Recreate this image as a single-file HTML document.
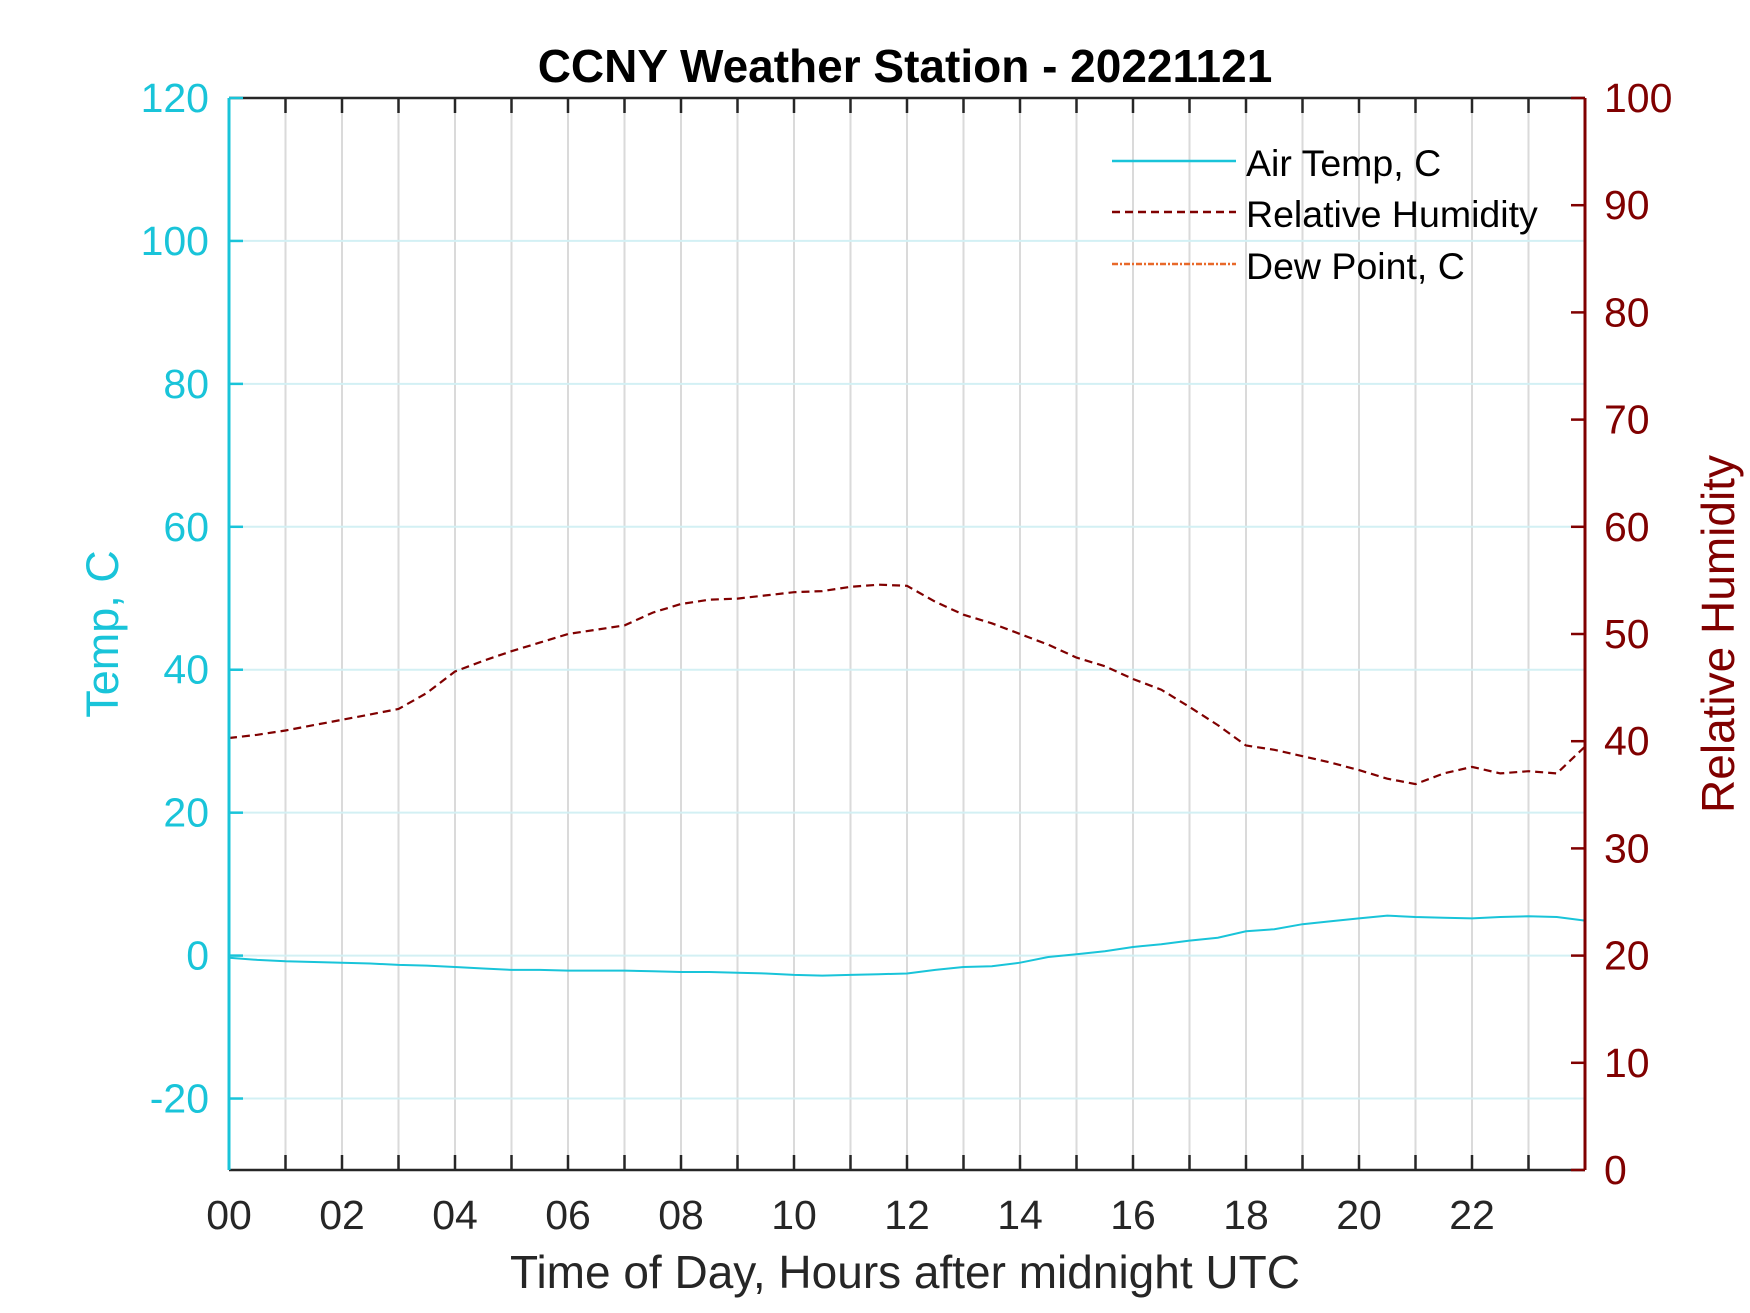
<!DOCTYPE html>
<html><head><meta charset="utf-8"><style>
html,body{margin:0;padding:0;background:#fff;}
svg{display:block;font-family:"Liberation Sans",sans-serif;}
</style></head><body>
<svg id="chart" width="1750" height="1313" viewBox="0 0 1750 1313">
<rect x="0" y="0" width="1750" height="1313" fill="#fff"/>
<g id="grid"></g>
<g id="series"></g>
<g id="axes"></g>
<text x="905" y="82" text-anchor="middle" font-size="46" font-weight="bold" fill="#000">CCNY Weather Station - 20221121</text>
<text x="905" y="1288" text-anchor="middle" font-size="46" fill="#262626">Time of Day, Hours after midnight UTC</text>
<text transform="translate(118,634) rotate(-90)" text-anchor="middle" font-size="45" fill="#19c4d9">Temp, C</text>
<text transform="translate(1734,634) rotate(-90)" text-anchor="middle" font-size="46" fill="#800000">Relative Humidity</text>
<g>
<line x1="1112" y1="161" x2="1236" y2="161" stroke="#19c4d9" stroke-width="2.5"/>
<text x="1246" y="176" font-size="37.5" fill="#000">Air Temp, C</text>
<line x1="1112" y1="212" x2="1236" y2="212" stroke="#800000" stroke-width="2.5" stroke-dasharray="8,5"/>
<text x="1246" y="227" font-size="37.5" fill="#000">Relative Humidity</text>
<line x1="1112" y1="264" x2="1236" y2="264" stroke="#e8692a" stroke-width="2.5" stroke-dasharray="6,2,2,2"/>
<text x="1246" y="279" font-size="37.5" fill="#000">Dew Point, C</text>
</g>
</svg>
<script>
const hours = [0,0.5,1,1.5,2,2.5,3,3.5,4,4.5,5,5.5,6,6.5,7,7.5,8,8.5,9,9.5,10,10.5,11,11.5,12,12.5,13,13.5,14,14.5,15,15.5,16,16.5,17,17.5,18,18.5,19,19.5,20,20.5,21,21.5,22,22.5,23,23.5,24];
const airTemp = [-0.3,-0.6,-0.8,-0.9,-1.0,-1.1,-1.3,-1.4,-1.6,-1.8,-2.0,-2.0,-2.1,-2.1,-2.1,-2.2,-2.3,-2.3,-2.4,-2.5,-2.7,-2.8,-2.7,-2.6,-2.5,-2.0,-1.6,-1.5,-1.0,-0.2,0.2,0.6,1.2,1.6,2.1,2.5,3.4,3.7,4.4,4.8,5.2,5.6,5.4,5.3,5.2,5.4,5.5,5.4,4.9];
const humidity = [40.3,40.6,41.0,41.5,42.0,42.5,43.0,44.5,46.5,47.5,48.4,49.2,50.0,50.4,50.8,52.0,52.8,53.2,53.3,53.6,53.9,54.0,54.4,54.6,54.5,53.0,51.8,51.0,50.0,49.0,47.8,47.0,45.8,44.8,43.2,41.5,39.6,39.2,38.6,38.0,37.3,36.5,36.0,37.0,37.6,37.0,37.2,37.0,39.5];
const xTickLabels = ["00","02","04","06","08","10","12","14","16","18","20","22"];
const leftTicks = [-20,0,20,40,60,80,100,120];
const rightTicks = [0,10,20,30,40,50,60,70,80,90,100];

const L=229,R=1585,T=98,B=1170;
const xs=h=>L+(R-L)*h/24;
const yL=v=>B-(B-T)*(v+30)/150;
const yR=v=>B-(B-T)*v/100;
const NS="http://www.w3.org/2000/svg";
function mk(tag,attrs,parent){const e=document.createElementNS(NS,tag);for(const k in attrs)e.setAttribute(k,attrs[k]);parent.appendChild(e);return e;}
const gridG=document.getElementById('grid'),axesG=document.getElementById('axes'),seriesG=document.getElementById('series');

for(let h=1;h<24;h++){
  const g=mk('line',{x1:xs(h),x2:xs(h),y1:T,y2:B,stroke:'#dadada','stroke-width':2},gridG);
  
  
}
leftTicks.forEach(v=>{
  if(v===120)return;
  const g=mk('line',{x1:L,x2:R,y1:yL(v),y2:yL(v),stroke:'#d3f0f4','stroke-width':2},gridG);
  
  
});

function pathD(vals,yf){return hours.map((h,i)=>(i?'L':'M')+xs(h).toFixed(1)+','+yf(vals[i]).toFixed(1)).join(' ');}
const rhLine=mk('path',{d:pathD(humidity,yR),fill:'none',stroke:'#800000','stroke-width':2.2,'stroke-dasharray':'8,5'},seriesG);


const tpLine=mk('path',{d:pathD(airTemp,yL),fill:'none',stroke:'#19c4d9','stroke-width':2},seriesG);



const topAxis=mk('line',{x1:L,x2:R,y1:T,y2:T,stroke:'#262626','stroke-width':2.5},axesG);


const botAxis=mk('line',{x1:L,x2:R,y1:B,y2:B,stroke:'#262626','stroke-width':2.5},axesG);


for(let h=1;h<24;h++){
  const t1=mk('line',{x1:xs(h),x2:xs(h),y1:B,y2:B-15,stroke:'#262626','stroke-width':2.5},axesG);
  
  
  const t2=mk('line',{x1:xs(h),x2:xs(h),y1:T,y2:T+15,stroke:'#262626','stroke-width':2.5},axesG);
  
  
}
xTickLabels.forEach((s,i)=>{
  const t=mk('text',{x:xs(i*2),y:1229,'text-anchor':'middle','font-size':41,fill:'#262626'},axesG);
  t.textContent=s;
  
  
});
const leftAxis=mk('line',{x1:L,x2:L,y1:T,y2:B,stroke:'#19c4d9','stroke-width':3},axesG);


leftTicks.forEach(v=>{
  const t=mk('line',{x1:L,x2:L+14,y1:yL(v),y2:yL(v),stroke:'#19c4d9','stroke-width':2.5},axesG);
  
  
  const l=mk('text',{x:209,y:yL(v)+14,'text-anchor':'end','font-size':41,fill:'#19c4d9'},axesG);
  l.textContent=v;
  
  
});
const rightAxis=mk('line',{x1:R,x2:R,y1:T,y2:B,stroke:'#800000','stroke-width':3},axesG);


rightTicks.forEach(v=>{
  const t=mk('line',{x1:R,x2:R-14,y1:yR(v),y2:yR(v),stroke:'#800000','stroke-width':2.5},axesG);
  
  
  const l=mk('text',{x:1604,y:yR(v)+14,'text-anchor':'start','font-size':41,fill:'#800000'},axesG);
  l.textContent=v;
  
  
});
</script>
</body></html>
